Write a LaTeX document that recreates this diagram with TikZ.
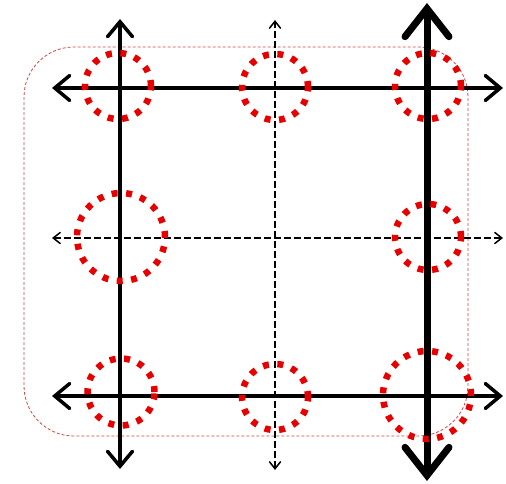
\documentclass[tikz,border=0pt]{standalone}
\usetikzlibrary{arrows.meta}
\definecolor{dotred}{RGB}{230,0,0}
\definecolor{framered}{RGB}{205,70,70}
\begin{document}
\begin{tikzpicture}[x=1pt,y=-1pt,
  solidaxis/.style={line width=3.5pt,{Straight Barb[length=15pt,width=25pt,line cap=round]}-{Straight Barb[length=15pt,width=25pt,line cap=round]}},
  heavyaxis/.style={line width=7pt,{Straight Barb[length=28pt,width=44pt,line cap=round]}-{Straight Barb[length=28pt,width=44pt,line cap=round]}},
  thinaxis/.style={line width=1.5pt,dash pattern=on 7pt off 3pt,{Straight Barb[length=7pt,width=11pt,line cap=round]}-{Straight Barb[length=7pt,width=11pt,line cap=round]}},
  ring/.style={circle,draw=dotred,line width=6.5pt,dash pattern=on 6pt off 8.5pt,inner sep=0pt,minimum size=#1},
  frame/.style={draw=framered,line width=0.8pt,dash pattern=on 3pt off 2pt,rounded corners=50pt}]
\useasboundingbox (0,0) rectangle (506,484);
% frame
\draw[frame] (24,47) rectangle (468,436);
% endpoints
\coordinate (lvT) at (120,19); \coordinate (lvB) at (120,469);
\coordinate (mvT) at (275,20); \coordinate (mvB) at (275,470);
\coordinate (rvT) at (427,3);  \coordinate (rvB) at (427,481);
\coordinate (thL) at (52,88);  \coordinate (thR) at (503,88);
\coordinate (mhL) at (52,238); \coordinate (mhR) at (503,238);
\coordinate (bhL) at (52,396); \coordinate (bhR) at (503,396);
% axes
\draw[thinaxis] (mhL) -- (mhR);
\draw[thinaxis] (mvB) -- (mvT);
\draw[solidaxis] (thL) -- (thR);
\draw[solidaxis] (bhL) -- (bhR);
\draw[solidaxis] (lvB) -- (lvT);
\draw[heavyaxis] (rvB) -- (rvT);
% rings
\node[ring=66pt] (tl) at (118,86) {};
\node[ring=66pt] (tm) at (275,87) {};
\node[ring=66pt] (tr) at (428,86) {};
\node[ring=88pt] (ml) at (121,237) {};
\node[ring=66pt] (mr) at (428,237) {};
\node[ring=67pt] (bl) at (121,392) {};
\node[ring=66pt] (bm) at (275,397) {};
\node[ring=88pt] (br) at (427,395) {};
\end{tikzpicture}
\end{document}
